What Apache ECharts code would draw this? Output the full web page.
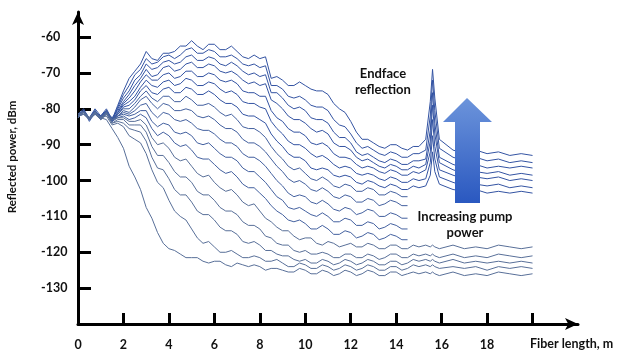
<!DOCTYPE html>
<html>
<head>
<meta charset="utf-8">
<title>Reflected power vs fiber length</title>
<script src="https://cdn.jsdelivr.net/npm/echarts@6/dist/echarts.min.js"></script>
<style>
    html, body { margin: 0; padding: 0; background: #fff; }
    #chart { width: 620px; height: 352px; }
</style>
</head>
<body>
<div id="chart"></div>
<script>
// fiber length positions (m) shared by all traces
const fiberLength = [
    0, 0.25, 0.5, 0.75, 1, 1.25, 1.5, 1.75,
    2, 2.25, 2.5, 2.75, 3, 3.25, 3.5, 3.75, 4, 4.25, 4.5, 4.75, 5, 5.25, 5.5, 5.75,
    6, 6.25, 6.5, 6.75, 7, 7.25, 7.5, 7.75, 8, 8.25, 8.5, 8.75, 9, 9.25, 9.5, 9.75,
    10, 10.25, 10.5, 10.75, 11, 11.25, 11.5, 11.75, 12, 12.25, 12.5, 12.75, 13, 13.25, 13.5, 13.75,
    14, 14.25, 14.5, 14.75, 15,
    15.3, 15.5, 15.6, 15.7, 15.9,
    16.5, 17, 17.5, 18, 18.5, 19, 19.5, 20,
];

const xLabelValues = [0, 2, 4, 6, 8, 10, 12, 14, 16, 18];
const xTickValues = [2, 4, 6, 8, 10, 12, 14, 16, 18, 20];
const yTickValues = [-130, -120, -110, -100, -90, -80, -70, -60];

// reflected power (dBm), highest pump power first
const trace00 = [-82, -80.5, -82.5, -80, -82, -81, -83, -79,
    -75, -71.5, -69.5, -67.5, -64, -66, -66.5, -64.5, -64.5, -64, -62.5, -62.5, -61, -62.5, -63.5, -62,
    -62, -63.5, -63.5, -62.5, -64, -65.5, -66, -65, -66, -65.5, -71.5, -71, -72, -73.5, -73.5, -72.5,
    -73.5, -74.5, -75, -75, -76, -78.5, -80, -81, -83.5, -86.5, -88.5, -88.5, -89.5, -90.5, -91, -90,
    -90, -91, -91.5, -90.5, -90.5,
    -88.5, -78, -69, -77, -88.5,
    -91.5, -92.5, -91.5, -92.5, -92, -93, -92.5, -93];
const trace01 = [-82.5, -81, -83, -80.5, -82.5, -80.5, -83.5, -79.5,
    -76, -73.5, -70.5, -69, -66, -67.5, -67, -65.5, -65, -66, -65, -63.5, -63, -64.5, -64.5, -63.5,
    -64, -65.5, -65.5, -65, -66, -67.5, -68, -67.5, -68.5, -68, -73.5, -73.5, -74.5, -76.5, -77, -76.5,
    -77.5, -79, -79.5, -79.5, -80.5, -83, -84.5, -85, -87, -89.5, -91, -90.5, -91.5, -92.5, -93, -92,
    -92.5, -93.5, -93.5, -92.5, -92.5,
    -91.5, -82, -72, -80.5, -91,
    -93.5, -94.5, -93.5, -94.5, -94, -95, -94.5, -95];
const trace02 = [-81.5, -80, -83, -81, -82, -80, -83, -80,
    -77, -75, -72, -70.5, -67.5, -69, -68.5, -67, -66.5, -67.5, -67, -65.5, -65, -66.5, -66.5, -65.5,
    -66, -67.5, -68, -67, -68, -69.5, -70.5, -70, -71, -70.5, -75.5, -75.5, -77, -79, -80, -79.5,
    -80.5, -82.5, -83, -83, -84, -86.5, -88, -88, -89.5, -92, -93, -92.5, -93.5, -94.5, -95, -94,
    -94.5, -95.5, -95.5, -94.5, -94.5,
    -94, -86, -75.5, -84, -93.5,
    -95.5, -96.5, -95.5, -96.5, -96, -96.5, -96, -96.5];
const trace03 = [-82, -81.5, -82.5, -80.5, -83, -81, -82.5, -80.5,
    -78, -76, -73.5, -71.5, -69, -71, -70.5, -68.5, -68, -69.5, -69, -67.5, -67, -68.5, -68.5, -67.5,
    -68, -69.5, -70, -69.5, -70.5, -72, -73, -72.5, -73.5, -73, -77.5, -78.5, -80, -82, -83, -83,
    -84, -85.5, -86.5, -86, -87, -89.5, -90.5, -90.5, -91.5, -93.5, -94.5, -94, -95, -96, -96.5, -95.5,
    -96, -97, -97, -96, -96.5,
    -95.5, -89, -79, -87, -95,
    -97, -98, -97.5, -98, -97.5, -98.5, -98, -98.5];
const trace04 = [-81.5, -80.5, -83.5, -81, -82, -80.5, -83, -81,
    -78.5, -77, -75, -72.5, -70.5, -72, -72, -70.5, -70, -71.5, -71, -69.5, -69.5, -71, -71, -70,
    -70.5, -72, -72.5, -72, -73, -75, -75.5, -75.5, -76.5, -76.5, -80.5, -82.5, -83.5, -85.5, -86.5, -86.5,
    -87.5, -89.5, -90, -89.5, -90.5, -92.5, -93.5, -93.5, -94, -95.5, -96.5, -96, -96.5, -97.5, -98, -97,
    -97.5, -98.5, -98.5, -97.5, -98,
    -97, -92, -83, -90.5, -97,
    -98.5, -99.5, -99, -99.5, -99, -100, -99.5, -100];
const trace05 = [-82, -81, -82.5, -81.5, -82.5, -81, -83.5, -81,
    -79, -78, -76.5, -74, -72, -73.5, -74, -72.5, -72, -73.5, -73, -71.5, -72, -73.5, -73.5, -72.5,
    -73, -74.5, -75.5, -75, -76, -78, -78.5, -78.5, -79.5, -80, -83.5, -85.5, -87, -89, -90, -90,
    -91, -92.5, -93.5, -93, -94, -95.5, -96.5, -96, -96.5, -98, -98.5, -98, -98.5, -99.5, -100, -99,
    -99.5, -100.5, -100.5, -99.5, -100,
    -99.5, -95, -87.5, -94, -99,
    -100.5, -101.5, -101, -101.5, -101, -102, -101.5, -102];
const trace06 = [-82.5, -80.5, -83, -81, -82, -80.5, -83, -81.5,
    -79.5, -79, -77.5, -75, -73.5, -75.5, -76, -74.5, -74, -75.5, -75.5, -74, -74.5, -76, -76, -75,
    -76, -77.5, -78.5, -78.5, -79.5, -81.5, -82, -82, -83, -84, -87, -89, -90.5, -92.5, -93.5, -93.5,
    -94.5, -96.5, -97, -96.5, -97, -98.5, -99, -98.5, -99, -100.5, -101, -100, -100.5, -101.5, -102, -101,
    -101.5, -102.5, -102.5, -101.5, -102,
    -101.5, -98.5, -92, -97.5, -101,
    -102.5, -103, -102.5, -103.5, -103, -103.5, -103, -103.5];
// these five stop at 14.5 m
const trace07 = [-82, -81, -83, -80.5, -82.5, -81, -82.5, -81.5,
    -80, -80, -78.5, -76.5, -75, -77, -78, -76.5, -76.5, -78, -78, -76.5, -77.5, -79, -79, -78.5,
    -79.5, -81, -82, -81.5, -83, -85, -85.5, -85.5, -86.5, -88, -90.5, -92.5, -94, -96, -97, -96.5,
    -98, -99.5, -100, -99, -100, -101.5, -102, -101, -101.5, -103, -103, -102, -102.5, -104, -104, -103,
    -103.5, -104.5, -104.5];
const trace08 = [-81.5, -80.5, -82.5, -81, -83, -80.5, -83, -82,
    -80.5, -81, -79.5, -77.5, -76.5, -78.5, -80, -78.5, -79, -80.5, -80.5, -80, -80.5, -82, -82.5, -82,
    -83, -84.5, -85.5, -85.5, -86.5, -88.5, -89.5, -89.5, -90.5, -92, -94, -96, -97.5, -99.5, -100.5, -100,
    -101, -102.5, -103, -102, -103, -104.5, -105, -104, -104.5, -106, -106, -105, -105.5, -107, -106.5, -105.5,
    -106, -107, -107];
const trace09 = [-82, -81, -83, -81.5, -82, -81, -83.5, -82,
    -81, -81.5, -80.5, -79, -78.5, -81, -82.5, -81, -81.5, -83, -83.5, -83, -84, -85.5, -86, -86,
    -87, -88.5, -89.5, -89.5, -90.5, -92.5, -93.5, -93.5, -94.5, -96, -98, -100, -101.5, -103.5, -104.5, -104,
    -104.5, -106, -106.5, -105.5, -106.5, -108, -108.5, -107.5, -108, -109.5, -109, -108, -108.5, -110, -110, -109,
    -109.5, -110.5, -110.5];
const trace10 = [-82.5, -81, -82.5, -81, -82.5, -81.5, -83, -82,
    -81.5, -82, -81.5, -80.5, -80.5, -83.5, -85, -84, -84.5, -86.5, -87, -86.5, -87.5, -89.5, -90, -89.5,
    -91, -92.5, -93.5, -93.5, -94.5, -96.5, -97.5, -97.5, -99, -100.5, -102.5, -104.5, -105.5, -107.5, -108, -107.5,
    -108.5, -109.5, -110, -109, -110, -111.5, -111.5, -110.5, -111, -112.5, -112.5, -111.5, -112, -113.5, -113, -112,
    -112.5, -113.5, -113.5];
const trace11 = [-82, -80.5, -83, -81.5, -82.5, -81, -83.5, -82.5,
    -82, -83, -82.5, -81.5, -82.5, -85.5, -87.5, -86.5, -87.5, -89.5, -90.5, -90, -91.5, -93.5, -94, -94,
    -95.5, -97, -98, -97.5, -99, -101, -102, -102, -103.5, -105, -107, -108.5, -109.5, -111, -111.5, -111,
    -112, -113.5, -113.5, -112.5, -113.5, -115, -115, -114, -114.5, -116, -115.5, -114.5, -115, -116.5, -116, -115,
    -115.5, -116.5, -116.5];
const trace12 = [-81.5, -81, -82.5, -81, -83, -81.5, -83, -82.5,
    -82.5, -83.5, -83.5, -83, -84.5, -88, -90, -89.5, -91, -93.5, -94.5, -94, -96, -98, -99, -98.5,
    -100.5, -102, -103, -102.5, -104, -106, -107, -106.5, -108.5, -110.5, -111.5, -113, -114, -114, -115.5, -116.5,
    -116, -116, -117.5, -118, -117, -117.5, -118.5, -118, -117.5, -118.5, -118.5, -117.5, -118, -119, -119, -118,
    -118, -119, -119, -118, -118.5,
    -118, -118.5, -118, -118.5, -119,
    -118, -119, -118.5, -119, -118, -118.5, -119, -118.5];
const trace13 = [-82, -81.5, -83, -81, -82.5, -81, -84, -83,
    -83, -84.5, -84.5, -84.5, -86.5, -90.5, -93, -93, -95, -97.5, -99, -99, -100.5, -103, -104, -104,
    -105.5, -107.5, -108.5, -108.5, -109.5, -111.5, -112.5, -112.5, -113.5, -115.5, -116, -117.5, -118, -118, -119.5, -120,
    -119.5, -120.5, -120.5, -120, -120.5, -121.5, -121.5, -120.5, -120.5, -121.5, -121.5, -120.5, -121, -122, -121.5, -120.5,
    -120.5, -121.5, -121.5, -120.5, -121,
    -120.5, -121, -120.5, -121, -121.5,
    -120.5, -121.5, -121, -121.5, -120.5, -121, -121.5, -121];
const trace14 = [-82.5, -81, -82.5, -81.5, -83, -81.5, -84, -83.5,
    -84, -85.5, -86, -86.5, -89, -93.5, -96.5, -97, -99.5, -102.5, -104, -104, -106, -108.5, -109.5, -109.5,
    -111, -113, -114, -114, -115, -117, -117.5, -117, -118, -119.5, -119.5, -120.5, -121, -121, -122, -122.5,
    -122, -123, -123, -122, -122.5, -123.5, -123, -122, -122.5, -123.5, -123, -122, -122.5, -123.5, -123.5, -122.5,
    -122.5, -123.5, -123, -122, -122.5,
    -122, -122.5, -122, -122.5, -123,
    -122, -123, -122.5, -123, -122.5, -123, -122.5, -123];
const trace15 = [-82, -81.5, -83, -81, -82.5, -82, -84.5, -84,
    -85, -87.5, -88.5, -89.5, -92.5, -97, -100.5, -102, -105.5, -108.5, -110, -111, -113.5, -116, -117.5, -117,
    -118.5, -120, -120, -119.5, -120.5, -121.5, -121.5, -121, -121.5, -122.5, -122.5, -122, -123, -124, -124, -123,
    -123.5, -124.5, -124.5, -123.5, -124, -125, -124.5, -123.5, -124, -125, -124.5, -123.5, -124, -125, -125, -124,
    -124, -125, -124.5, -123.5, -124,
    -123.5, -124, -123.5, -124, -124.5,
    -124, -124.5, -124, -125, -124, -124.5, -124, -124.5];
const trace16 = [-82, -81, -82.5, -81, -82.5, -83, -85.5, -88,
    -91, -96, -99, -102.5, -107.5, -110.5, -114.5, -117.5, -119, -119.5, -120.5, -121.5, -121.5, -121.5, -122.5, -123,
    -122.5, -122.5, -123.5, -124, -123, -123.5, -124, -123.5, -124, -125, -124.5, -124.5, -125, -125.5, -125.5, -124.5,
    -125, -126, -126, -125, -125.5, -126.5, -126, -125, -125.5, -126.5, -126, -125, -125.5, -126.5, -126.5, -125.5,
    -125.5, -126.5, -126, -125.5, -126,
    -125.5, -126, -125.5, -126, -126.5,
    -125.5, -126.5, -126, -126.5, -125.5, -126, -126.5, -126];

const traces = [
    trace00, trace01, trace02, trace03, trace04, trace05, trace06, trace07, trace08,
    trace09, trace10, trace11, trace12, trace13, trace14, trace15, trace16,
];

const chart = echarts.init(document.getElementById("chart"), null, { renderer: "canvas" });

const labelFont = "Lato, 'Open Sans', sans-serif";

const series = traces.map((trace, i) => ({
    type: "line",
    showSymbol: false,
    silent: true,
    data: trace.map((v, j) => [fiberLength[j], v]),
    lineStyle: {
        width: 1,
        color: i < 7 ? "#3353a2" : i < 12 ? "#43609f" : "#586f98",
    },
}));

const arrowFill = new echarts.graphic.LinearGradient(0, 0, 0, 1, [
    { offset: 0, color: "#6c94db" },
    { offset: 1, color: "#2a58c0" },
]);

const options = {
    animation: false,
    grid: { left: 78, right: 42, top: 12, bottom: 28 },
    xAxis: {
        type: "value",
        min: 0,
        max: 22,
        interval: 2,
        axisLine: {
            lineStyle: { color: "#000", width: 3 },
            symbol: ["none", "arrow"],
            symbolSize: [9, 13],
        },
        axisTick: {
            inside: true,
            length: 11,
            customValues: xTickValues,
            lineStyle: { color: "#000", width: 3 },
        },
        axisLabel: {
            customValues: xLabelValues,
            margin: 14,
            color: "#111",
            fontWeight: "bold",
            fontSize: 12.5,
            fontFamily: labelFont,
        },
        splitLine: { show: false },
    },
    yAxis: {
        type: "value",
        min: -140,
        max: -53,
        interval: 10,
        axisLine: {
            show: true,
            lineStyle: { color: "#000", width: 3 },
            symbol: ["none", "arrow"],
            symbolSize: [9, 13],
        },
        axisTick: {
            show: true,
            inside: true,
            length: 13,
            customValues: yTickValues,
            lineStyle: { color: "#000", width: 3 },
        },
        axisLabel: {
            customValues: yTickValues,
            align: "left",
            margin: 37,
            color: "#111",
            fontWeight: "bold",
            fontSize: 12.5,
            fontFamily: labelFont,
        },
        splitLine: { show: false },
    },
    series,
    graphic: [
        {
            type: "polygon",
            z: 100,
            shape: {
                points: [[467, 98], [492, 122], [480, 122], [480, 203], [455, 203], [455, 122], [443, 122]],
            },
            style: { fill: arrowFill },
        },
        {
            type: "text",
            z: 100,
            x: 383,
            y: 82,
            style: {
                text: "Endface\nreflection",
                align: "center",
                verticalAlign: "middle",
                lineHeight: 16,
                fill: "#111",
                font: "bold 13px " + labelFont,
            },
        },
        {
            type: "text",
            z: 100,
            x: 465,
            y: 225,
            style: {
                text: "Increasing pump\npower",
                align: "center",
                verticalAlign: "middle",
                lineHeight: 16,
                fill: "#111",
                font: "bold 13px " + labelFont,
            },
        },
        {
            type: "text",
            z: 100,
            x: 530,
            y: 344,
            style: {
                text: "Fiber length, m",
                align: "left",
                verticalAlign: "middle",
                fill: "#111",
                font: "bold 12.5px " + labelFont,
            },
        },
        {
            type: "text",
            z: 100,
            x: 12,
            y: 157,
            rotation: Math.PI / 2,
            style: {
                text: "Reflected power, dBm",
                align: "center",
                verticalAlign: "middle",
                fill: "#111",
                font: "bold 11.5px " + labelFont,
            },
        },
    ],
};

chart.setOption(options);
</script>
</body>
</html>
